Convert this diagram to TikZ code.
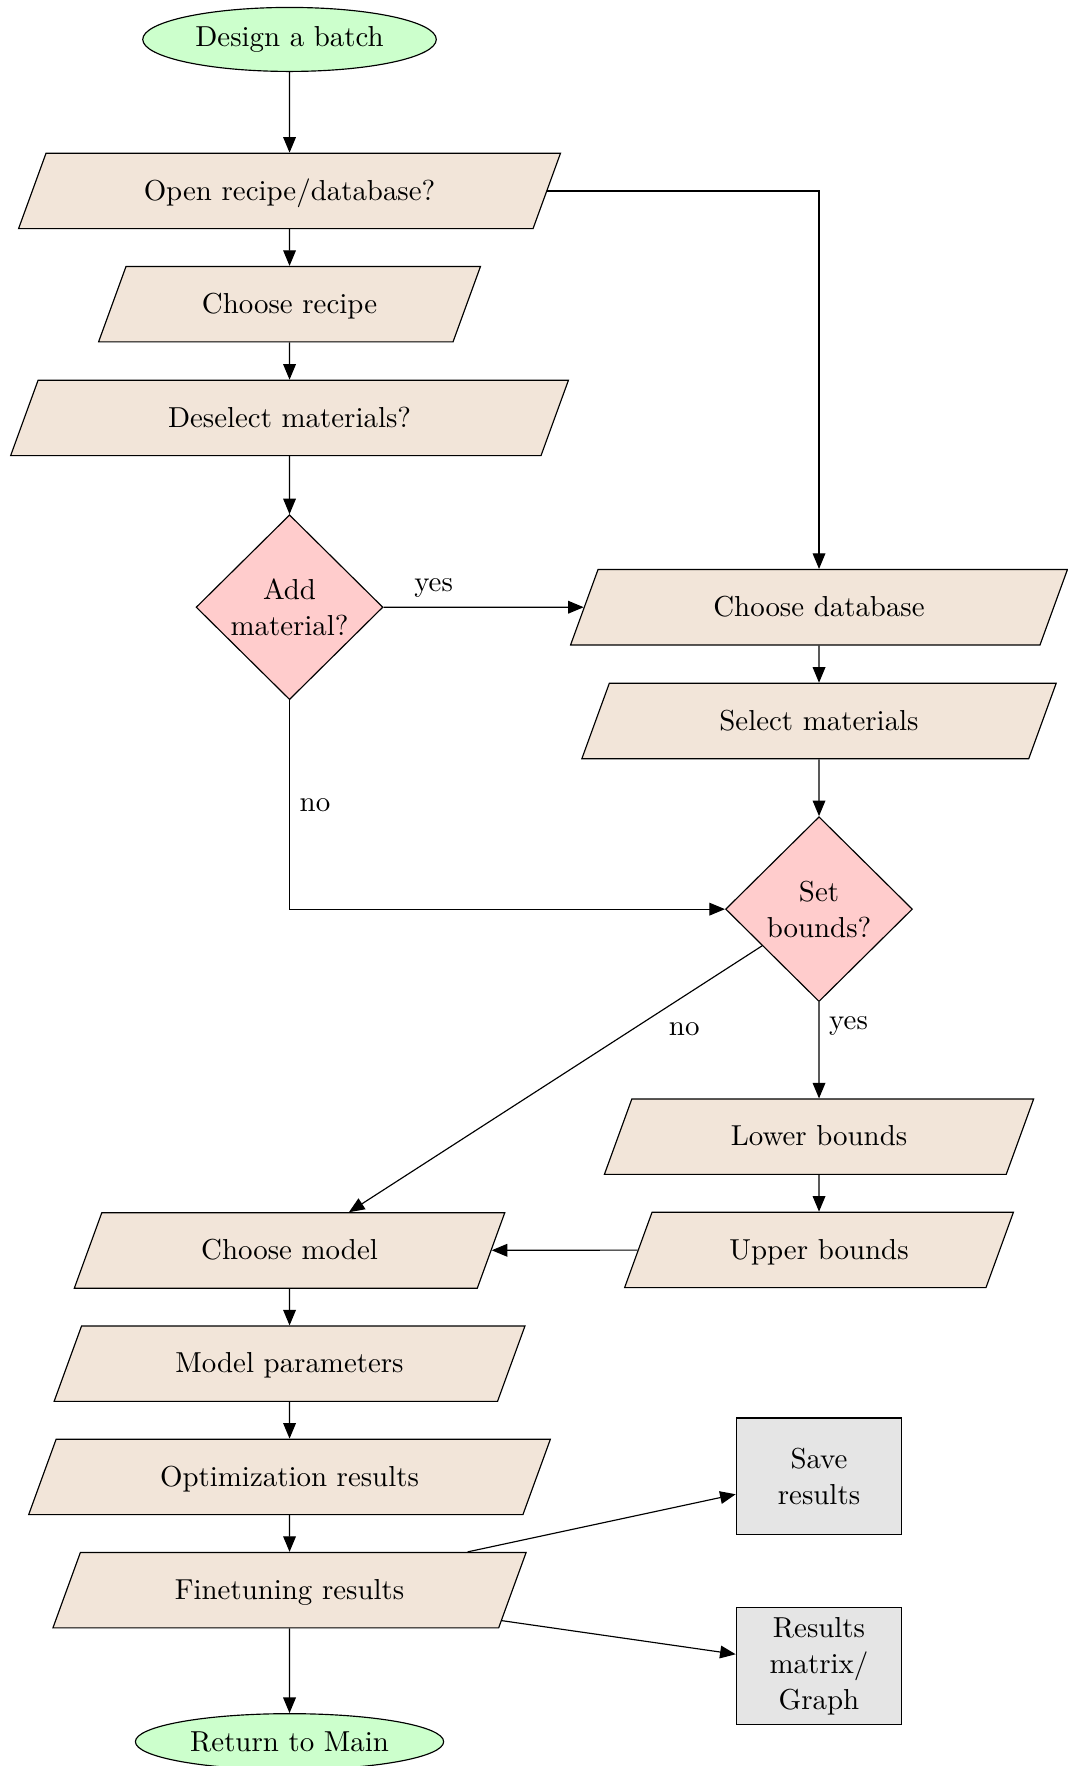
\documentclass[tikz,border=0pt]{standalone}
\usetikzlibrary{shapes.geometric,arrows.meta}
\begin{document}
\begin{tikzpicture}[x=0.39pt,y=-0.39pt,
  startstop/.style={ellipse,draw,fill=green!20},
  io/.style={trapezium,trapezium left angle=70,trapezium right angle=110,
    trapezium stretches body,draw,fill=brown!20,
    text height=7.7pt,text depth=1.3pt,inner ysep=8.55pt},
  decision/.style={diamond,draw,fill=red!20,align=center,inner sep=0pt,
    font=\fontsize{10}{12.5}\selectfont,
    minimum width=64.7pt,minimum height=64pt},
  outbox/.style={rectangle,draw,fill=gray!20,align=center,
    font=\fontsize{10}{12.5}\selectfont,
    minimum width=57.3pt,minimum height=40.4pt},
  arr/.style={-{Triangle[length=5.4pt,width=4.4pt]}}]
\useasboundingbox (0,0) rectangle (948,1567.6);
\node[startstop] (batch) at (257,35) {Design a batch};
\node[io,minimum width=187.6pt] (open) at (257,169.5) {Open recipe/database?};
\node[io,minimum width=132.2pt] (recipe) at (257,270) {Choose recipe};
\node[io,minimum width=193.1pt] (desel) at (257,371) {Deselect materials?};
\node[decision] (addm) at (257,539) {Add\\material?};
\node[io,minimum width=172pt] (cdb) at (727,539) {Choose database};
\node[io,minimum width=164.2pt] (selm) at (727,640) {Select materials};
\node[decision] (setb) at (727,807) {Set\\bounds?};
\node[io,minimum width=148.6pt] (lowb) at (727,1009) {Lower bounds};
\node[io,minimum width=134.6pt] (upb) at (727,1109.5) {Upper bounds};
\node[io,minimum width=149pt] (model) at (257,1110) {Choose model};
\node[io,minimum width=163pt] (mparam) at (257,1210.5) {Model parameters};
\node[io,minimum width=180.6pt] (opt) at (257,1311) {Optimization results};
\node[io,minimum width=163.8pt] (fine) at (257,1411.5) {Finetuning results};
\node[startstop] (ret) at (257,1546) {Return to Main};
\node[outbox] (save) at (727,1310.5) {Save\\results};
\node[outbox] (resm) at (727,1479) {Results\\matrix/\\Graph};

\draw[arr] (batch) -- (open);
\draw[arr] (open.east) -| (cdb);
\draw[arr] (open) -- (recipe);
\draw[arr] (recipe) -- (desel);
\draw[arr] (desel) -- (addm);
\draw[arr] (addm) -- node[near start,above] {yes} (cdb);
\draw[arr] (addm) |- node[pos=0.25,right] {no} (setb);
\draw[arr] (cdb) -- (selm);
\draw[arr] (selm) -- (setb);
\draw[arr] (setb) -- node[near start,right] {yes} (lowb);
\draw[arr] (setb) -- node[near start,below right] {no} (model);
\draw[arr] (lowb) -- (upb);
\draw[arr] (upb) -- (model);
\draw[arr] (model) -- (mparam);
\draw[arr] (mparam) -- (opt);
\draw[arr] (opt) -- (fine);
\draw[arr] (fine) -- (ret);
\draw[arr] (fine) -- (save);
\draw[arr] (fine) -- (resm);
\end{tikzpicture}
\end{document}
